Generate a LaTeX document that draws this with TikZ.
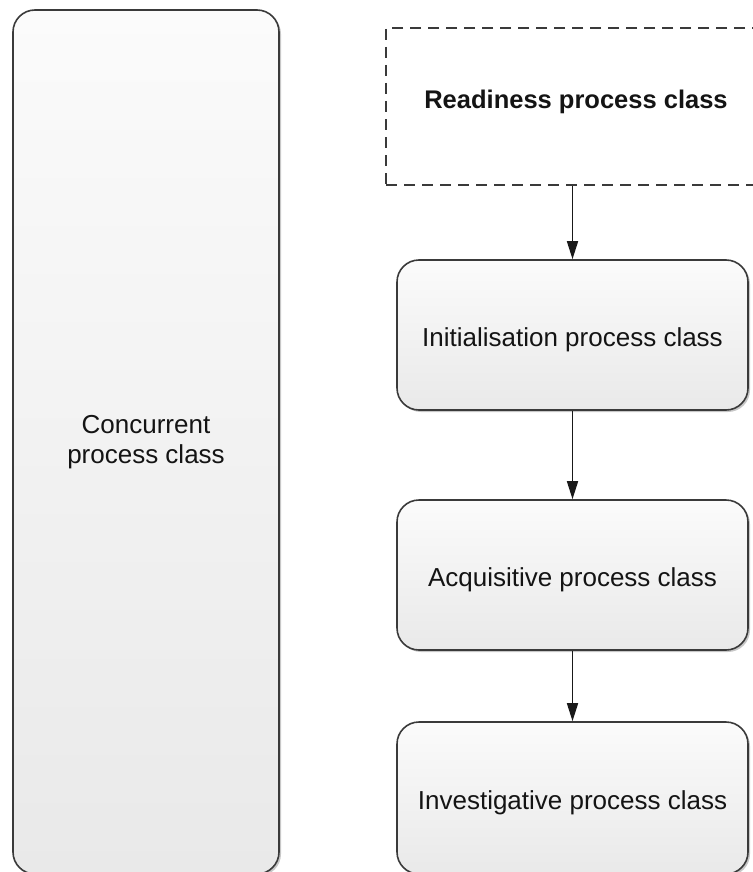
\documentclass[tikz,border=0pt]{standalone}
\usepackage{fontspec}
\setmainfont{Liberation Sans}
\usetikzlibrary{arrows.meta,shadows}

\definecolor{boxline}{HTML}{3A3A3A}
\definecolor{boxtop}{HTML}{FBFBFB}
\definecolor{boxbottom}{HTML}{E9E9E9}
\definecolor{labeltext}{HTML}{141414}

\begin{document}
\begin{tikzpicture}[x=1pt,y=-1pt,
  procbox/.style={draw=boxline, line width=1.6pt, rounded corners=22pt,
    top color=boxtop, bottom color=boxbottom,
    drop shadow={shadow xshift=2pt, shadow yshift=-2pt, opacity=0.22, fill=black},
    inner sep=0pt, text=labeltext, font=\fontsize{26}{30}\selectfont},
  stagebox/.style={procbox, minimum width=351pt, minimum height=150pt,
    text height=23.4pt, text depth=0pt},
  groupbox/.style={draw=boxline, line width=1.6pt, dashed, dash pattern=on 11pt off 7pt,
    fill=white, inner sep=0pt, text=labeltext,
    font=\bfseries\fontsize{25.5}{30}\selectfont},
  flow/.style={draw=black!90, line width=1.6pt, -{Triangle[length=18pt,width=11pt]}}
]
\useasboundingbox (0,0) rectangle (752,872);

% long side box holding the concurrent class
\node[procbox, minimum width=266pt, minimum height=864pt, align=center]
  (conc) at (146,442) {Concurrent\\process class};

% dashed group box at the head of the chain
\node[groupbox, minimum width=380pt, minimum height=157pt,
      text height=12pt, text depth=7pt]
  (ready) at (576,106.5) {Readiness process class};

% sequential chain of process classes
\node[stagebox] (init) at (572.5,335) {Initialisation process class};
\node[stagebox] (acq)  at (572.5,575) {Acquisitive process class};
\node[stagebox, minimum height=152pt] (inv) at (572.5,798) {Investigative process class};

% connectors
\draw[flow] (ready.south -| init.north) -- (init.north);
\draw[flow] (init.south) -- (acq.north);
\draw[flow] (acq.south) -- (inv.north);
\end{tikzpicture}
\end{document}
